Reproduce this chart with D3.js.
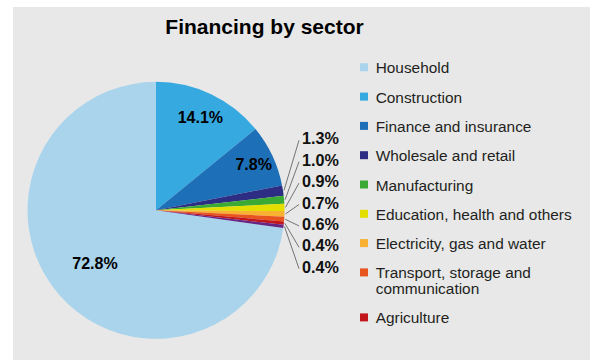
<!DOCTYPE html>
<html>
<head>
<meta charset="utf-8">
<script src="https://cdn.jsdelivr.net/npm/d3@7/dist/d3.min.js"></script>
<style>
  html, body { margin: 0; padding: 0; background: #ffffff; }
  svg { display: block; font-family: "Liberation Sans", Arial, Helvetica, sans-serif; }
</style>
</head>
<body>
<svg id="chart" width="595" height="360"></svg>
<script>
// Share of financing by sector (%), in legend order
const sectors = [
  "Household",
  "Construction",
  "Finance and insurance",
  "Wholesale and retail",
  "Manufacturing",
  "Education, health and others",
  "Electricity, gas and water",
  "Transport, storage and communication",
  "Agriculture",
  "Other"
];
const shares = [72.8, 14.1, 7.8, 1.3, 1.0, 0.9, 0.7, 0.6, 0.4, 0.4];
const shareLabels = ["72.8%", "14.1%", "7.8%", "1.3%", "1.0%", "0.9%", "0.7%", "0.6%", "0.4%", "0.4%"];
const colors = ["#aad4ec", "#36a9e0", "#1d70b7", "#2d2e83", "#3aaa35", "#e2de00", "#f8b133", "#e8541e", "#c3161c", "#662483"];
// Sectors listed in the legend (the last small slice has no legend entry)
const legendSectors = sectors.slice(0, 9);

const svg = d3.select("#chart");
const W = 595, H = 360;

// Panel background
svg.append("rect").attr("x", 13).attr("y", 7).attr("width", 577).attr("height", H - 7).attr("fill", "#e8e8e8");

// Title
svg.append("text")
  .attr("x", 264.5).attr("y", 33.5)
  .attr("text-anchor", "middle")
  .attr("font-size", 21).attr("font-weight", "bold").attr("fill", "#000")
  .text("Financing by sector");

const data = sectors.map((s, i) => ({ sector: s, value: shares[i], label: shareLabels[i], color: colors[i] }));
const total = d3.sum(shares);

// Pie: Household ends at 12 o'clock so the remaining sectors run clockwise from the top
const startAngle = -(shares[0] / total) * 2 * Math.PI;
const pie = d3.pie().sort(null).value(d => d.value)
  .startAngle(startAngle).endAngle(startAngle + 2 * Math.PI);
const arcs = pie(data);

const cx = 156, cy = 210.3, r = 128.5;
const arc = d3.arc().innerRadius(0).outerRadius(r);
const g = svg.append("g").attr("transform", `translate(${cx},${cy})`);

g.selectAll("path.slice").data(arcs).join("path")
  .attr("class", "slice")
  .attr("d", arc)
  .attr("fill", d => d.data.color);

// Labels inside large slices
const insideRadius = { "Household": 0.63, "Construction": 0.805, "Finance and insurance": 0.84 };
const big = arcs.filter(d => d.data.value >= 5);
g.selectAll("text.inside").data(big).join("text")
  .attr("class", "inside")
  .attr("transform", d => {
    const k = insideRadius[d.data.sector] || 0.75;
    const c = d3.arc().innerRadius(r * k).outerRadius(r * k).centroid(d);
    return `translate(${c[0]},${c[1] + 5.7})`;
  })
  .attr("text-anchor", "middle")
  .attr("font-size", 16).attr("font-weight", "bold").attr("fill", "#000")
  .text(d => d.data.label);

// Labels for small slices, stacked to the right with leader lines
const small = arcs.filter(d => d.data.value < 5);
const labelX = 302, firstBaseline = 144.3, step = 21.4;
const lineEndX = 299;
const outer = d3.arc().innerRadius(r + 1).outerRadius(r + 1);

g.selectAll("line.leader").data(small).join("line")
  .attr("class", "leader")
  .attr("x1", d => outer.centroid(d)[0])
  .attr("y1", d => outer.centroid(d)[1])
  .attr("x2", lineEndX - cx)
  .attr("y2", (d, i) => firstBaseline + i * step - 4 - cy)
  .attr("stroke", "#555").attr("stroke-width", 0.8);

svg.selectAll("text.outside").data(small).join("text")
  .attr("class", "outside")
  .attr("x", labelX)
  .attr("y", (d, i) => firstBaseline + i * step)
  .attr("font-size", 16.2).attr("font-weight", "bold").attr("fill", "#111")
  .text(d => d.data.label);

// Legend
const legend = svg.append("g");
const legX = 360, textX = 375.7, rowStep = 29.3, lineH = 15.7, wrapWidth = 205;
let baseline = 73.3;
legendSectors.forEach((name, i) => {
  const row = legend.append("g");
  row.append("rect")
    .attr("x", legX).attr("y", baseline - 10)
    .attr("width", 8).attr("height", 8)
    .attr("fill", colors[i]);
  const t = row.append("text")
    .attr("x", textX).attr("y", baseline)
    .attr("font-size", 15.4).attr("fill", "#231f20");
  // simple word wrap
  const words = name.split(" ");
  let line = [];
  let tspan = t.append("tspan").attr("x", textX).attr("y", baseline);
  let lines = 1;
  words.forEach(w => {
    line.push(w);
    tspan.text(line.join(" "));
    if (tspan.node().getComputedTextLength() > wrapWidth && line.length > 1) {
      line.pop();
      tspan.text(line.join(" "));
      line = [w];
      tspan = t.append("tspan").attr("x", textX).attr("y", baseline + lines * lineH).text(w);
      lines++;
    }
  });
  baseline += rowStep + (lines - 1) * lineH;
});
</script>
</body>
</html>
